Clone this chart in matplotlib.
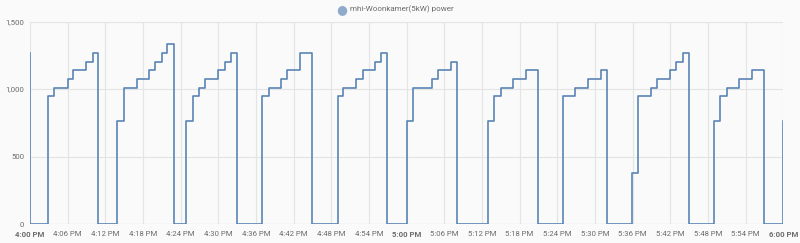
import matplotlib
matplotlib.use("Agg")
import matplotlib.pyplot as plt

plt.rcParams["font.family"] = ["Roboto", "DejaVu Sans"]

# minutes after 4:00 PM where the power level changes, and the new level (W)
minutes = [0, 0,
           2.9, 3.9, 6.0, 6.9, 9.0, 10.0, 10.9,
           13.9, 15.0, 17.0, 18.9, 19.9, 21.0, 21.9, 23.0,
           24.9, 25.9, 26.9, 27.9, 30.0, 31.0, 32.0, 33.0,
           36.9, 38.0, 40.0, 41.0, 43.0, 45.0,
           49.0, 49.9, 52.0, 53.0, 55.0, 55.9, 56.9,
           60.0, 61.0, 64.0, 65.0, 67.0, 68.0,
           72.9, 74.0, 75.0, 77.0, 79.0, 81.0,
           84.9, 86.9, 88.9, 91.0, 92.0,
           95.9, 96.9, 98.9, 99.9, 101.9, 102.9, 104.0, 105.0,
           109.0, 110.0, 111.0, 112.9, 115.0, 117.0,
           119.95, 120]
power = [1265, 0,
         950, 1010, 1075, 1140, 1200, 1265, 0,
         760, 1010, 1075, 1140, 1200, 1265, 1330, 0,
         760, 950, 1010, 1075, 1140, 1200, 1265, 0,
         950, 1010, 1075, 1140, 1265, 0,
         950, 1010, 1075, 1140, 1200, 1265, 0,
         760, 1010, 1075, 1140, 1200, 0,
         760, 950, 1010, 1075, 1140, 0,
         950, 1010, 1075, 1140, 0,
         380, 950, 1010, 1075, 1140, 1200, 1265, 0,
         760, 950, 1010, 1075, 1140, 0,
         760, 760]

tick_minutes = list(range(0, 121, 6))
tick_labels = ["4:00 PM", "4:06 PM", "4:12 PM", "4:18 PM", "4:24 PM", "4:30 PM",
               "4:36 PM", "4:42 PM", "4:48 PM", "4:54 PM", "5:00 PM", "5:06 PM",
               "5:12 PM", "5:18 PM", "5:24 PM", "5:30 PM", "5:36 PM", "5:42 PM",
               "5:48 PM", "5:54 PM", "6:00 PM"]
y_ticks = [0, 500, 1000, 1500]
y_labels = ["0", "500", "1,000", "1,500"]

bg = "#fafafa"
line_color = "#5a85b4"
text_color = "#6b6b6b"

fig = plt.figure(figsize=(8, 2.43), dpi=100, facecolor=bg)
ax = fig.add_axes([0.0375, 0.078, 0.9415, 0.8335], facecolor=bg)

ax.plot(minutes, power, drawstyle="steps-post", color=line_color, lw=1.2)

ax.set_xlim(0, 120)
ax.set_ylim(0, 1500)
ax.set_xticks(tick_minutes)
ax.set_xticklabels(tick_labels)
ax.set_yticks(y_ticks)
ax.set_yticklabels(y_labels)
for lbl in ax.get_xticklabels():
    if lbl.get_text() in ("4:00 PM", "5:00 PM", "6:00 PM"):
        lbl.set_fontweight("bold")
        lbl.set_color("#444444")

ax.tick_params(length=0, labelsize=5.6, colors=text_color)
ax.tick_params(axis="x", pad=5)
ax.tick_params(axis="y", pad=4)
ax.grid(True, color="#e4e4e4", lw=0.8)
ax.set_axisbelow(True)
for s in ax.spines.values():
    s.set_visible(False)
ax.axhline(0, color="#d0d0d0", lw=0.8, zorder=0)

ax.set_ylabel("W", fontsize=5.6, color=text_color)
ax.yaxis.set_label_coords(-0.038, 0.5)

# legend at the top
fig.text(0.427, 0.962, "\u25CF", fontsize=9, color="#8faacb", ha="center", va="center",
         family="DejaVu Sans")
fig.text(0.4375, 0.962, "mhi-Woonkamer(5kW) power", fontsize=5.8, color=text_color,
         ha="left", va="center")

fig.savefig("out.png", dpi=100, facecolor=bg)
